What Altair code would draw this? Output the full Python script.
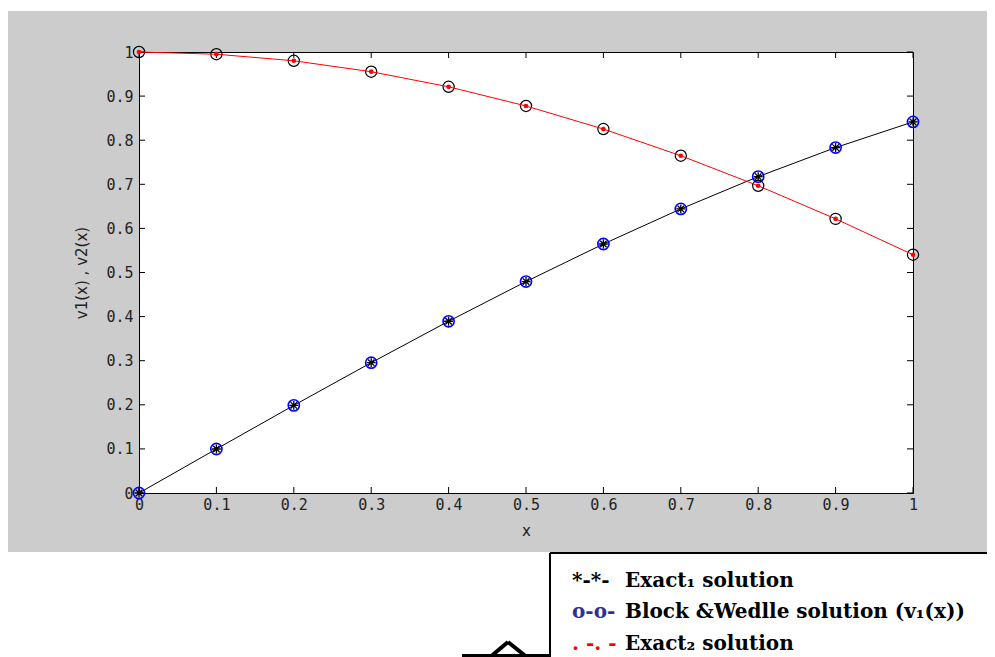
import altair as alt
import pandas as pd

# ---- data ----
x_vals = [0.0, 0.1, 0.2, 0.3, 0.4, 0.5, 0.6, 0.7, 0.8, 0.9, 1.0]
v1_vals = [0.0, 0.0998, 0.1987, 0.2955, 0.3894, 0.4794, 0.5646, 0.6442, 0.7174, 0.7833, 0.8415]
v2_vals = [1.0, 0.9950, 0.9801, 0.9553, 0.9211, 0.8776, 0.8253, 0.7648, 0.6967, 0.6216, 0.5403]
tick_vals = [0, 0.1, 0.2, 0.3, 0.4, 0.5, 0.6, 0.7, 0.8, 0.9, 1]

legend_prefix = ["*-*-", "o-o-", ". -. -"]
legend_prefix_colors = ["#000000", "#2e3192", "#ff0000"]
legend_text = ["Exact\u2081 solution", "Block &Wedlle solution (v\u2081(x))", "Exact\u2082 solution"]

# ---- layout (pixels) ----
PW, PH = 774, 441
TOTAL_W, TOTAL_H = 979, 649
PAD_L, PAD_T = 131, 44
PAD_R = TOTAL_W - PAD_L - PW
PAD_B = TOTAL_H - PAD_T - PH
TICK = 6
BOT = PH + PAD_B  # bottom edge in view coords

df = pd.DataFrame({"x": x_vals, "v1": v1_vals, "v2": v2_vals})
ticks = pd.DataFrame({"t": tick_vals})
one = pd.DataFrame({"a": [0]})

xs = alt.Scale(domain=[0, 1], nice=False, zero=False)
ys = alt.Scale(domain=[0, 1], nice=False, zero=False)
xaxis = alt.Axis(values=tick_vals, format="~g", title="x", labelFlush=False,
                 labelOverlap=False, labelPadding=4, titlePadding=11)
yaxis = alt.Axis(values=tick_vals, format="~g", title="v1(x) , v2(x)", labelFlush=False,
                 labelOverlap=False, labelPadding=6, titlePadding=16)


def X(f):
    return alt.X(f, type="quantitative", scale=xs, axis=xaxis)


def Y(f):
    return alt.Y(f, type="quantitative", scale=ys, axis=yaxis)


# white areas outside the grey figure panel
white_top = alt.Chart(one).mark_rect(color="white").encode(
    x=alt.value(-PAD_L), x2=alt.value(PW + PAD_R), y=alt.value(-PAD_T), y2=alt.value(-PAD_T + 3))
white_bot = alt.Chart(one).mark_rect(color="white").encode(
    x=alt.value(-PAD_L), x2=alt.value(PW + PAD_R), y=alt.value(500), y2=alt.value(BOT))

# legend box lines
box_left = alt.Chart(one).mark_rule(color="black", strokeWidth=2).encode(
    x=alt.value(411), y=alt.value(501), y2=alt.value(BOT))
box_top = alt.Chart(one).mark_rule(color="black", strokeWidth=2).encode(
    x=alt.value(411), x2=alt.value(PW + PAD_R), y=alt.value(501))

# chevron shape at bottom
chev_h = alt.Chart(one).mark_rule(color="black", strokeWidth=3).encode(
    x=alt.value(323), x2=alt.value(411), y=alt.value(BOT - 1.5))
chev_l = alt.Chart(one).mark_rule(color="black", strokeWidth=4).encode(
    x=alt.value(350), x2=alt.value(369), y=alt.value(BOT + 1), y2=alt.value(BOT - 15))
chev_r = alt.Chart(one).mark_rule(color="black", strokeWidth=4).encode(
    x=alt.value(369), x2=alt.value(389), y=alt.value(BOT - 15), y2=alt.value(BOT + 1))

# inward ticks on all four sides
t_bot = alt.Chart(ticks).mark_rule(color="black", strokeWidth=1).encode(
    x=X("t"), y=alt.value(PH), y2=alt.value(PH - TICK))
t_top = alt.Chart(ticks).mark_rule(color="black", strokeWidth=1).encode(
    x=X("t"), y=alt.value(0), y2=alt.value(TICK))
t_left = alt.Chart(ticks).mark_rule(color="black", strokeWidth=1).encode(
    y=Y("t"), x=alt.value(0), x2=alt.value(TICK))
t_right = alt.Chart(ticks).mark_rule(color="black", strokeWidth=1).encode(
    y=Y("t"), x=alt.value(PW), x2=alt.value(PW - TICK))

base = alt.Chart(df)
line1 = base.mark_line(color="black", strokeWidth=1).encode(x=X("x"), y=Y("v1"))
circ1 = base.mark_point(shape="circle", filled=False, color="#0000ff", size=125, strokeWidth=1.6, opacity=1).encode(
    x=X("x"), y=Y("v1"))
star1 = base.mark_point(
    shape="M-1,0L1,0M0,-1L0,1M-0.72,-0.72L0.72,0.72M-0.72,0.72L0.72,-0.72",
    filled=False, color="black", size=80, strokeWidth=1.3, opacity=1).encode(x=X("x"), y=Y("v1"))
circ2 = base.mark_point(shape="circle", filled=False, color="black", size=125, strokeWidth=1.2, opacity=1).encode(
    x=X("x"), y=Y("v2"))
line2 = base.mark_line(color="#ff0000", strokeWidth=1).encode(x=X("x"), y=Y("v2"))
dot2 = base.mark_point(shape="circle", filled=True, color="#ff0000", size=22, opacity=1).encode(
    x=X("x"), y=Y("v2"))

# legend texts
leg_layers = []
baselines = [535, 566, 598]
for i in range(3):
    leg_layers.append(alt.Chart(one).mark_text(
        align="left", baseline="alphabetic", font="DejaVu Serif", fontWeight="bold",
        fontSize=20, color=legend_prefix_colors[i]).encode(
        x=alt.value(433), y=alt.value(baselines[i]), text=alt.value(legend_prefix[i])))
    leg_layers.append(alt.Chart(one).mark_text(
        align="left", baseline="alphabetic", font="DejaVu Serif", fontWeight="bold",
        fontSize=20, color="black").encode(
        x=alt.value(486), y=alt.value(baselines[i]), text=alt.value(legend_text[i])))

chart = alt.layer(
    white_top, white_bot, box_left, box_top, chev_h, chev_l, chev_r,
    t_bot, t_top, t_left, t_right,
    line1, circ1, star1, circ2, line2, dot2,
    *leg_layers
).properties(
    width=PW, height=PH,
    padding={"left": PAD_L, "top": PAD_T, "right": PAD_R, "bottom": PAD_B},
    autosize=alt.AutoSizeParams(type="none"),
    background="#cccccc",
).configure_view(
    fill="white", stroke="black", strokeWidth=1
).configure_axis(
    domain=False, ticks=False, grid=False,
    labelFont="DejaVu Sans Mono", labelFontSize=15, labelColor="#222222",
    titleFont="DejaVu Sans", titleFontSize=15, titleFontWeight="normal", titleColor="#222222",
)

chart.save("out.html", embed_options={"renderer": "svg", "actions": False})
